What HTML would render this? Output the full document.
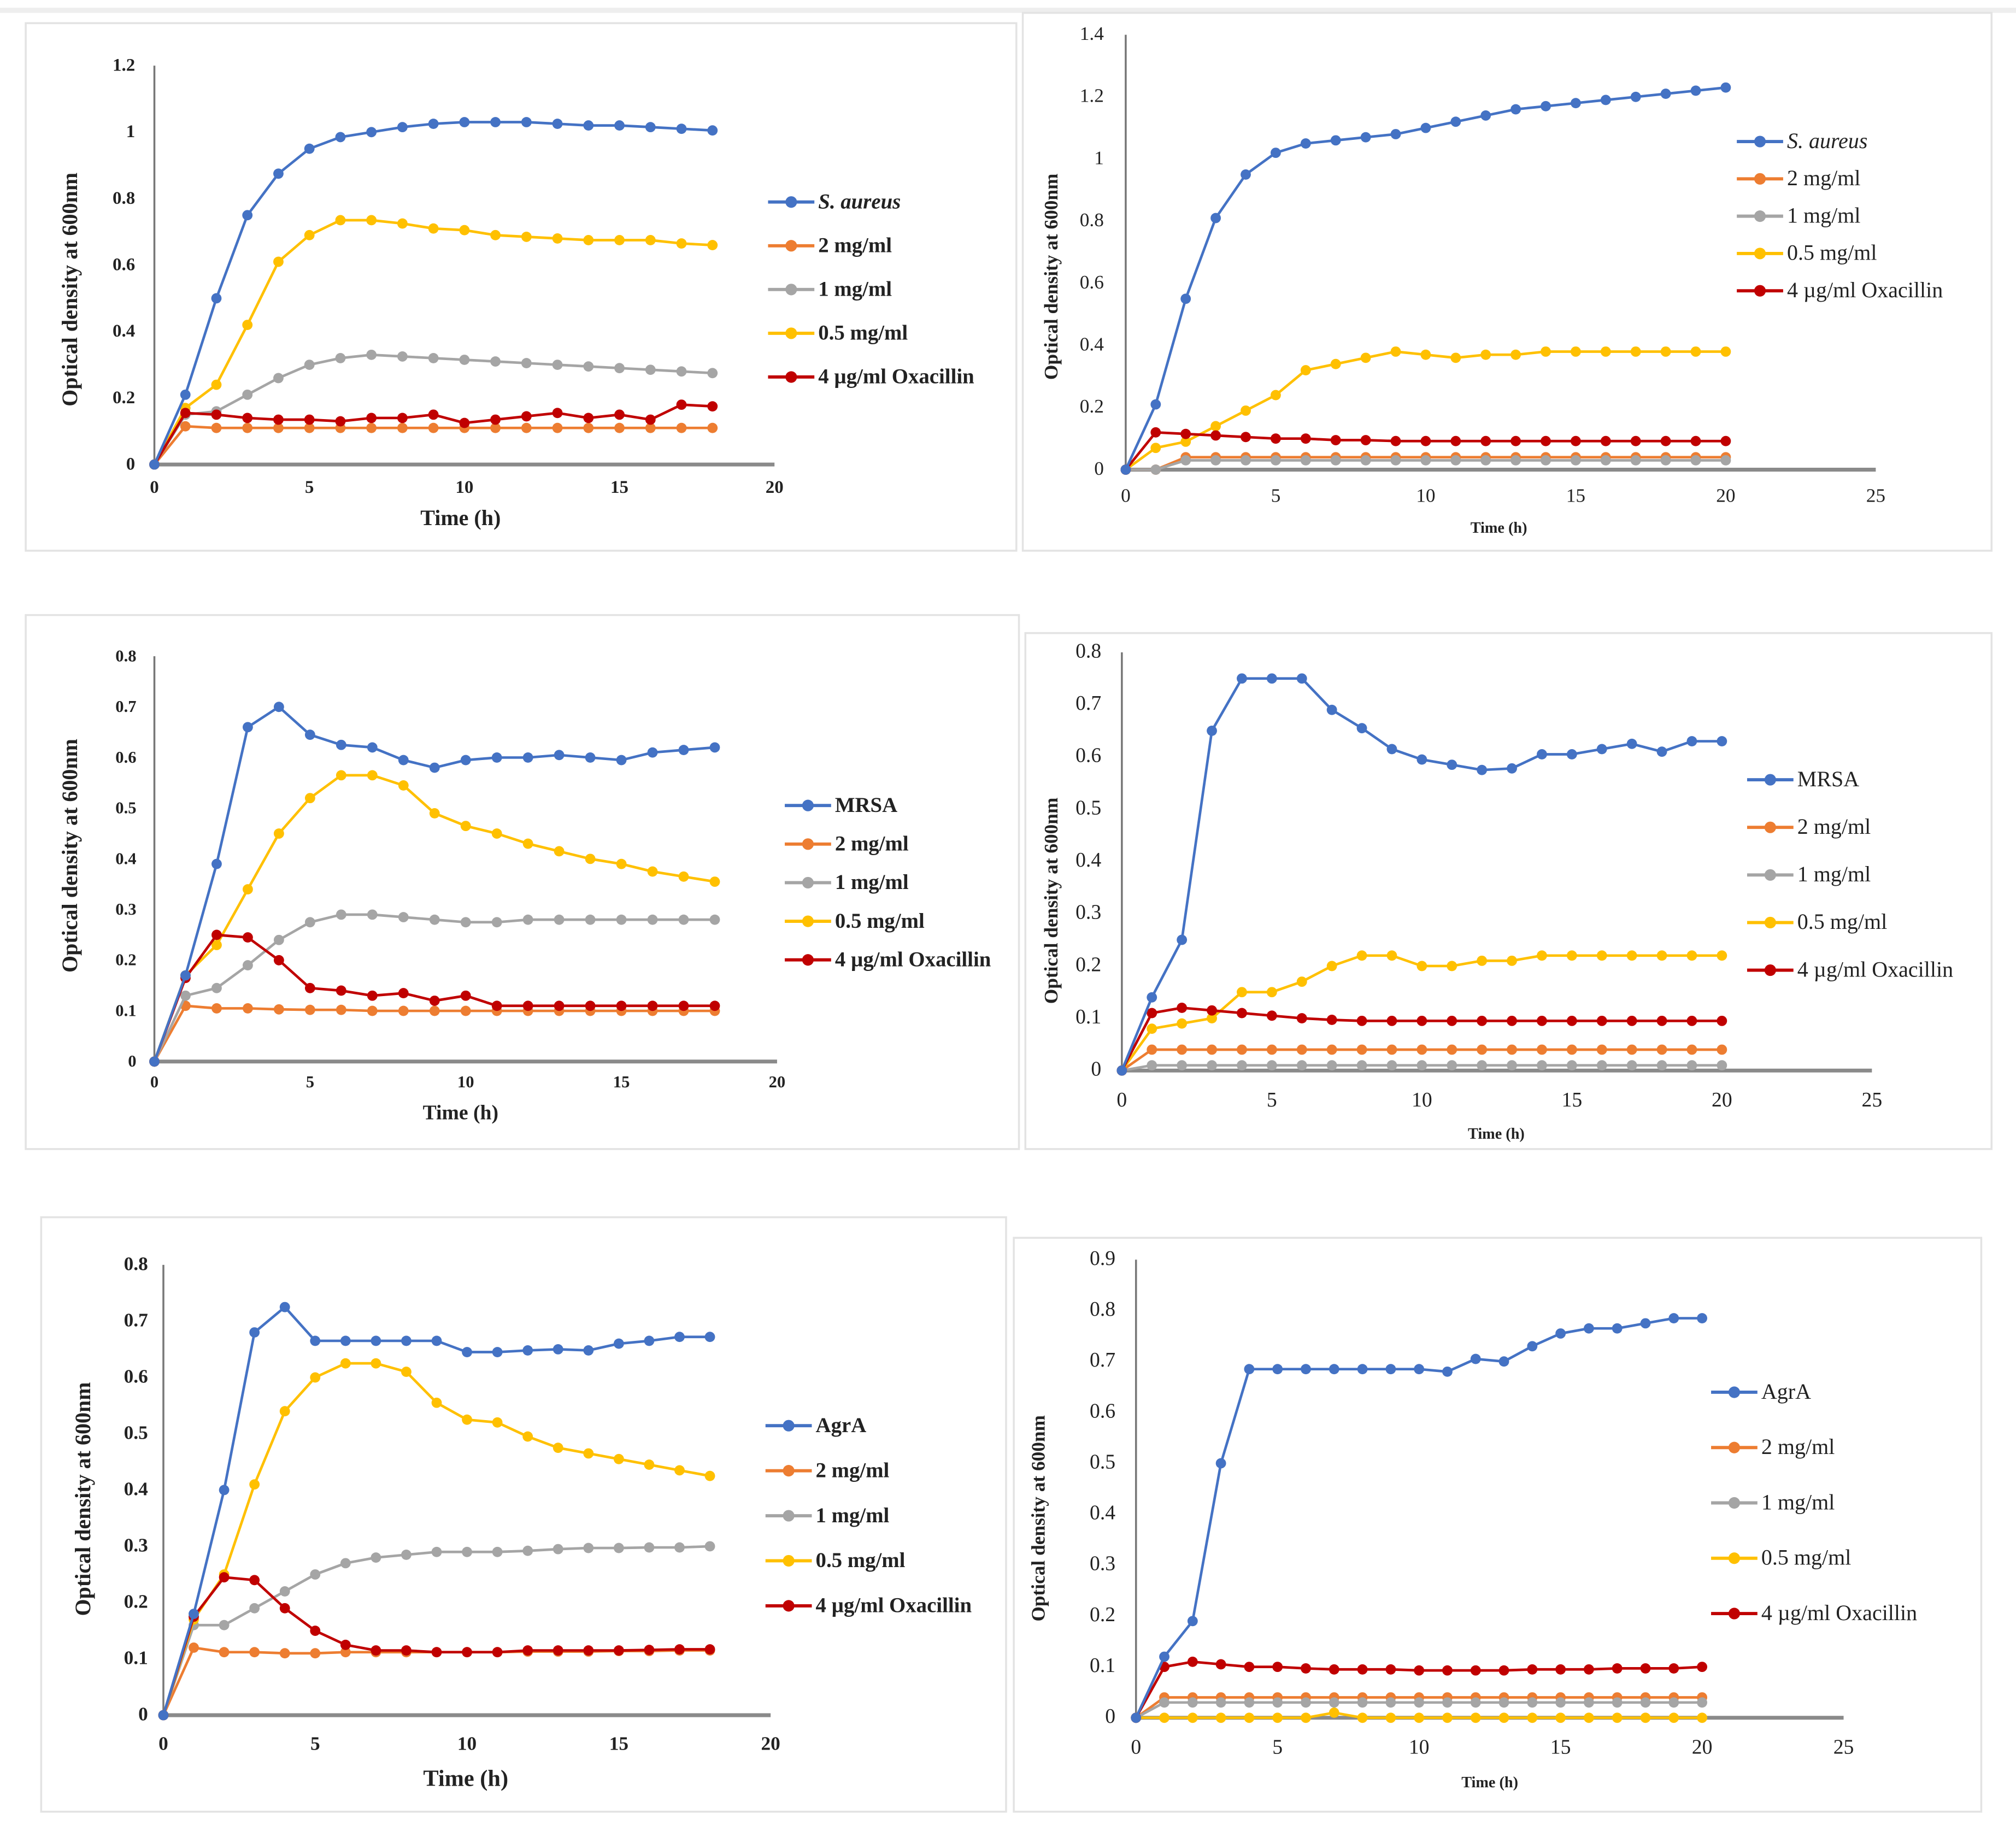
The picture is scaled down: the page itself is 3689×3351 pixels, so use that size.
<!DOCTYPE html>
<html><head><meta charset="utf-8"><style>
html,body{margin:0;padding:0;background:#fff;}
svg{display:block;}
text{font-family:"Liberation Serif",serif;fill:#222;}
</style></head>
<body>
<svg id="fig" width="3689" height="3351" viewBox="0 0 1567 1423" preserveAspectRatio="none" xmlns="http://www.w3.org/2000/svg">
<rect x="0" y="0" width="1567" height="1423" fill="#fff"/>
<rect x="0" y="6" width="1567" height="4" fill="#eeeeee"/>
</svg>
<script>
// ---- Data (top-level arrays) ----
const seriesNames1 = ["S. aureus","2 mg/ml","1 mg/ml","0.5 mg/ml","4 µg/ml Oxacillin"];
const seriesNames3 = ["MRSA","2 mg/ml","1 mg/ml","0.5 mg/ml","4 µg/ml Oxacillin"];
const seriesNames5 = ["AgrA","2 mg/ml","1 mg/ml","0.5 mg/ml","4 µg/ml Oxacillin"];

const p1Blue   = [0,0.21,0.5,0.75,0.875,0.95,0.985,1.0,1.015,1.025,1.03,1.03,1.03,1.025,1.02,1.02,1.015,1.01,1.005];
const p1Orange = [0,0.115,0.11,0.11,0.11,0.11,0.11,0.11,0.11,0.11,0.11,0.11,0.11,0.11,0.11,0.11,0.11,0.11,0.11];
const p1Gray   = [0,0.15,0.16,0.21,0.26,0.3,0.32,0.33,0.325,0.32,0.315,0.31,0.305,0.3,0.295,0.29,0.285,0.28,0.275];
const p1Yellow = [0,0.17,0.24,0.42,0.61,0.69,0.735,0.735,0.725,0.71,0.705,0.69,0.685,0.68,0.675,0.675,0.675,0.665,0.66];
const p1Red    = [0,0.155,0.15,0.14,0.135,0.135,0.13,0.14,0.14,0.15,0.125,0.135,0.145,0.155,0.14,0.15,0.135,0.18,0.175];

const p2Blue   = [0,0.21,0.55,0.81,0.95,1.02,1.05,1.06,1.07,1.08,1.1,1.12,1.14,1.16,1.17,1.18,1.19,1.2,1.21,1.22,1.23];
const p2Orange = [0,0,0.04,0.04,0.04,0.04,0.04,0.04,0.04,0.04,0.04,0.04,0.04,0.04,0.04,0.04,0.04,0.04,0.04,0.04,0.04];
const p2Gray   = [0,0,0.03,0.03,0.03,0.03,0.03,0.03,0.03,0.03,0.03,0.03,0.03,0.03,0.03,0.03,0.03,0.03,0.03,0.03,0.03];
const p2Yellow = [0,0.07,0.09,0.14,0.19,0.24,0.32,0.34,0.36,0.38,0.37,0.36,0.37,0.37,0.38,0.38,0.38,0.38,0.38,0.38,0.38];
const p2Red    = [0,0.12,0.115,0.11,0.105,0.1,0.1,0.095,0.095,0.092,0.092,0.092,0.092,0.092,0.092,0.092,0.092,0.092,0.092,0.092,0.092];

const p3Blue   = [0,0.17,0.39,0.66,0.7,0.645,0.625,0.62,0.595,0.58,0.595,0.6,0.6,0.605,0.6,0.595,0.61,0.615,0.62];
const p3Orange = [0,0.11,0.105,0.105,0.103,0.102,0.102,0.1,0.1,0.1,0.1,0.1,0.1,0.1,0.1,0.1,0.1,0.1,0.1];
const p3Gray   = [0,0.13,0.145,0.19,0.24,0.275,0.29,0.29,0.285,0.28,0.275,0.275,0.28,0.28,0.28,0.28,0.28,0.28,0.28];
const p3Yellow = [0,0.17,0.23,0.34,0.45,0.52,0.565,0.565,0.545,0.49,0.465,0.45,0.43,0.415,0.4,0.39,0.375,0.365,0.355];
const p3Red    = [0,0.165,0.25,0.245,0.2,0.145,0.14,0.13,0.135,0.12,0.13,0.11,0.11,0.11,0.11,0.11,0.11,0.11,0.11];

const p4Blue   = [0,0.14,0.25,0.65,0.75,0.75,0.75,0.69,0.655,0.615,0.595,0.585,0.575,0.578,0.605,0.605,0.615,0.625,0.61,0.63,0.63];
const p4Orange = [0,0.04,0.04,0.04,0.04,0.04,0.04,0.04,0.04,0.04,0.04,0.04,0.04,0.04,0.04,0.04,0.04,0.04,0.04,0.04,0.04];
const p4Gray   = [0,0.01,0.01,0.01,0.01,0.01,0.01,0.01,0.01,0.01,0.01,0.01,0.01,0.01,0.01,0.01,0.01,0.01,0.01,0.01,0.01];
const p4Yellow = [0,0.08,0.09,0.1,0.15,0.15,0.17,0.2,0.22,0.22,0.2,0.2,0.21,0.21,0.22,0.22,0.22,0.22,0.22,0.22,0.22];
const p4Red    = [0,0.11,0.12,0.115,0.11,0.105,0.1,0.097,0.095,0.095,0.095,0.095,0.095,0.095,0.095,0.095,0.095,0.095,0.095,0.095,0.095];

const p5Blue   = [0,0.18,0.4,0.68,0.725,0.665,0.665,0.665,0.665,0.665,0.645,0.645,0.648,0.65,0.648,0.66,0.665,0.672,0.672];
const p5Orange = [0,0.12,0.112,0.112,0.11,0.11,0.112,0.112,0.112,0.112,0.112,0.112,0.113,0.113,0.113,0.114,0.114,0.115,0.115];
const p5Gray   = [0,0.16,0.16,0.19,0.22,0.25,0.27,0.28,0.285,0.29,0.29,0.29,0.292,0.295,0.297,0.297,0.298,0.298,0.3];
const p5Yellow = [0,0.17,0.25,0.41,0.54,0.6,0.625,0.625,0.61,0.555,0.525,0.52,0.495,0.475,0.465,0.455,0.445,0.435,0.425];
const p5Red    = [0,0.175,0.245,0.24,0.19,0.15,0.125,0.115,0.115,0.112,0.112,0.112,0.115,0.115,0.115,0.115,0.116,0.117,0.117];

const p6Blue   = [0,0.12,0.19,0.5,0.685,0.685,0.685,0.685,0.685,0.685,0.685,0.68,0.705,0.7,0.73,0.755,0.765,0.765,0.775,0.785,0.785];
const p6Orange = [0,0.04,0.04,0.04,0.04,0.04,0.04,0.04,0.04,0.04,0.04,0.04,0.04,0.04,0.04,0.04,0.04,0.04,0.04,0.04,0.04];
const p6Gray   = [0,0.03,0.03,0.03,0.03,0.03,0.03,0.03,0.03,0.03,0.03,0.03,0.03,0.03,0.03,0.03,0.03,0.03,0.03,0.03,0.03];
const p6Yellow = [0,0,0,0,0,0,0,0.01,0,0,0,0,0,0,0,0,0,0,0,0,0];
const p6Red    = [0,0.1,0.11,0.105,0.1,0.1,0.097,0.095,0.095,0.095,0.093,0.093,0.093,0.093,0.095,0.095,0.095,0.097,0.097,0.097,0.1];

const yTicks12 = ["0","0.2","0.4","0.6","0.8","1","1.2"];
const yTicks14 = ["0","0.2","0.4","0.6","0.8","1","1.2","1.4"];
const yTicks08 = ["0","0.1","0.2","0.3","0.4","0.5","0.6","0.7","0.8"];
const yTicks09 = ["0","0.1","0.2","0.3","0.4","0.5","0.6","0.7","0.8","0.9"];
const xTicks20 = ["0","5","10","15","20"];
const xTicks25 = ["0","5","10","15","20","25"];

const colors = ["#4472C4","#ED7D31","#A5A5A5","#FFC000","#C00000"];

// ---- Layout ----
const panels = [
 {id:"p1",box:[20,18,770,410],x0:120,x1:602,xmax:20,y0:361,y1:51,ymax:1.2,yt:yTicks12,xt:xTicks20,names:seriesNames1,
  data:[p1Blue,p1Orange,p1Gray,p1Yellow,p1Red],leg:[597,157,34],bold:true,tfs:14,ttl:17,ytx:60,yty:225,ylx:105,txy:383,tty:408,ttx:358},
 {id:"p2",box:[795,10,753,418],x0:875,x1:1458,xmax:25,y0:365,y1:27,ymax:1.4,yt:yTicks14,xt:xTicks25,names:seriesNames1,
  data:[p2Blue,p2Orange,p2Gray,p2Yellow,p2Red],leg:[1350,110,29],bold:false,tfs:15,ttl:12,ytx:822,yty:215,ylx:858,txy:390,tty:414,ttx:1165},
 {id:"p3",box:[20,478,772,415],x0:120,x1:604,xmax:20,y0:825,y1:510,ymax:0.8,yt:yTicks08,xt:xTicks20,names:seriesNames3,
  data:[p3Blue,p3Orange,p3Gray,p3Yellow,p3Red],leg:[610,626,30],bold:true,tfs:13,ttl:16,ytx:60,yty:665,ylx:106,txy:845,tty:870,ttx:358},
 {id:"p4",box:[797,492,751,401],x0:872,x1:1455,xmax:25,y0:832,y1:507,ymax:0.8,yt:yTicks08,xt:xTicks25,names:seriesNames3,
  data:[p4Blue,p4Orange,p4Gray,p4Yellow,p4Red],leg:[1358,606,37],bold:false,tfs:16,ttl:12,ytx:822,yty:700,ylx:856,txy:860,tty:885,ttx:1163},
 {id:"p5",box:[32,946,750,462],x0:127,x1:599,xmax:20,y0:1333,y1:983,ymax:0.8,yt:yTicks08,xt:xTicks20,names:seriesNames5,
  data:[p5Blue,p5Orange,p5Gray,p5Yellow,p5Red],leg:[595,1108,35],bold:true,tfs:15,ttl:18,ytx:70,yty:1165,ylx:115,txy:1360,tty:1388,ttx:362},
 {id:"p6",box:[788,962,752,446],x0:883,x1:1433,xmax:25,y0:1335,y1:979,ymax:0.9,yt:yTicks09,xt:xTicks25,names:seriesNames5,
  data:[p6Blue,p6Orange,p6Gray,p6Yellow,p6Red],leg:[1330,1082,43],bold:false,tfs:16,ttl:12,ytx:812,yty:1180,ylx:867,txy:1363,tty:1389,ttx:1158}
];

const NS="http://www.w3.org/2000/svg";
const svg=document.getElementById('fig');
function mk(tag,attrs,parent){const e=document.createElementNS(NS,tag);for(const k in attrs)e.setAttribute(k,attrs[k]);(parent||svg).appendChild(e);return e;}

panels.forEach(p=>{
  const g=mk('g',{});
  
  
  const fr=mk('rect',{x:p.box[0],y:p.box[1],width:p.box[2],height:p.box[3],fill:'#fff',stroke:'#e3e3e3','stroke-width':1.5},g);
  
  
  const sx=v=>p.x0+(p.x1-p.x0)*v/p.xmax;
  const sy=v=>p.y0-(p.y0-p.y1)*v/p.ymax;
  const ya=mk('line',{x1:p.x0,y1:p.y1,x2:p.x0,y2:p.y0,stroke:'#777','stroke-width':1.5},g);
  
  
  const xa=mk('line',{x1:p.x0,y1:p.y0,x2:p.x1,y2:p.y0,stroke:'#8a8a8a','stroke-width':3},g);
  
  
  const fw=p.bold?'bold':'normal';
  p.yt.forEach((t,i)=>{
    const v=p.ymax*i/(p.yt.length-1);
    const tx=mk('text',{x:p.ylx,y:sy(v)+4,'text-anchor':'end','font-size':p.tfs,'font-weight':fw},g);
    tx.textContent=t;
    
    
  });
  p.xt.forEach((t,i)=>{
    const v=p.xmax*i/(p.xt.length-1);
    const tx=mk('text',{x:sx(v),y:p.txy,'text-anchor':'middle','font-size':p.tfs,'font-weight':fw},g);
    tx.textContent=t;
    
    
  });
  const xt=mk('text',{x:p.ttx,y:p.tty,'text-anchor':'middle','font-size':p.ttl,'font-weight':'bold'},g);
  xt.textContent='Time (h)';
  
  
  const yt=mk('text',{x:p.ytx,y:p.yty,'text-anchor':'middle','font-size':p.bold?17:15,'font-weight':'bold',transform:`rotate(-90 ${p.ytx} ${p.yty})`},g);
  yt.textContent='Optical density at 600nm';
  
  
  [1,2,3,4,0].forEach(si=>{
    const d=p.data[si];
    const sg=mk('g',{},g);
    
    
    const pts=d.map((v,i)=>sx(i)+','+sy(v)).join(' ');
    const pl=mk('polyline',{points:pts,fill:'none',stroke:colors[si],'stroke-width':2,'stroke-linejoin':'round'},sg);
    
    
    d.forEach((v,i)=>{
      const c=mk('circle',{cx:sx(i),cy:sy(v),r:4,fill:colors[si]},sg);
      
      
    });
  });
  p.names.forEach((n,i)=>{
    const ly=p.leg[1]+i*p.leg[2];
    const lg=mk('g',{},g);
    
    
    mk('line',{x1:p.leg[0],y1:ly,x2:p.leg[0]+36,y2:ly,stroke:colors[i],'stroke-width':2.5},lg);
    mk('circle',{cx:p.leg[0]+18,cy:ly,r:4.5,fill:colors[i]},lg);
    const t=mk('text',{x:p.leg[0]+39,y:ly+5,'font-size':p.bold?16.5:17,'font-weight':fw,'font-style':(i==0&&n=='S. aureus')?'italic':'normal'},lg);
    t.textContent=n;
  });
});
</script>
</body></html>
